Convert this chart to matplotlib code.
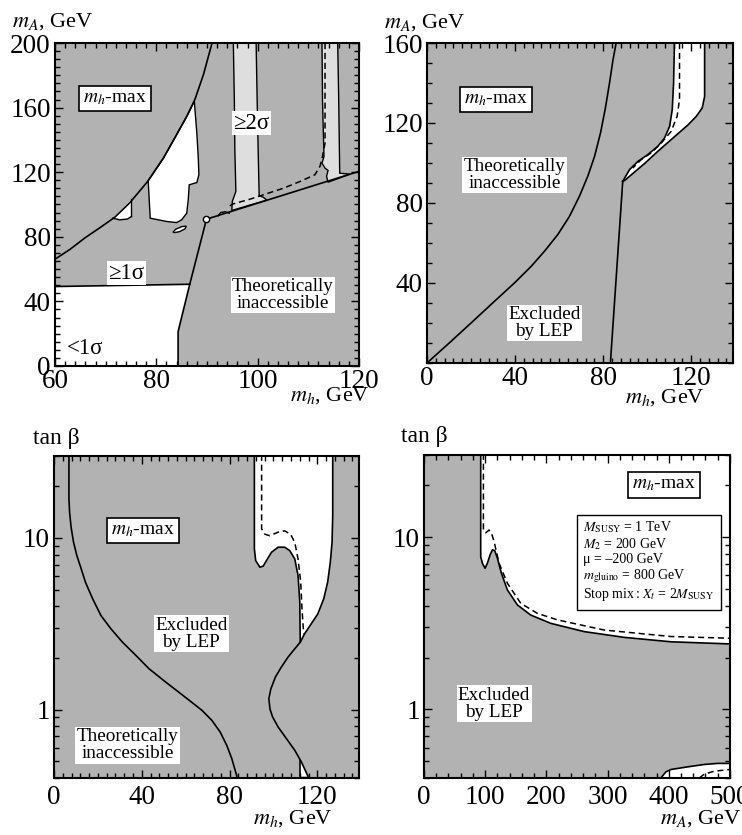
import numpy as np
import matplotlib
matplotlib.use("Agg")
import matplotlib.pyplot as plt
from matplotlib.ticker import MultipleLocator, FixedLocator, NullFormatter, LogLocator

plt.rcParams['font.family'] = ['Liberation Serif', 'DejaVu Serif']
plt.rcParams['mathtext.fontset'] = 'stix'

GRAY = '#b2b2b2'
LIGHT = '#dedede'

# ---- panel 1: (m_h, m_A) with significance bands ----
p1_curve_x = [60.0, 63.0, 65.9, 68.9, 71.8, 74.8, 78.3, 81.4, 84.0, 86.0, 87.6, 89.3, 91.0]
p1_curve_y = [66.1, 72.3, 79.3, 85.7, 92.1, 101.2, 114.3, 128.7, 143.2, 154.5, 164.9,
              180.4, 200.0]

p1_theory_x = [84.3, 84.3, 86.6, 89.9, 120.0]
p1_theory_y = [0.0, 21.3, 50.6, 90.9, 120.5]

p1_sig1_x = [60.0, 86.6]
p1_sig1_y = [49.2, 50.6]

p1_low_x = [60.0, 84.3, 84.3, 86.6, 60.0]
p1_low_y = [0.0, 0.0, 21.3, 50.6, 49.2]

p1_hole1_x = [71.4, 73.3, 75.1, 75.1, 74.3, 72.8]
p1_hole1_y = [91.5, 97.5, 103.3, 92.6, 91.0, 90.5]

p1_hole2_x = [78.4, 81.4, 84.0, 86.0, 87.5, 88.0, 88.3, 88.4, 88.0, 86.5, 86.3,
              86.0, 85.0, 84.0, 82.0, 78.8, 78.6]
p1_hole2_y = [114.8, 128.7, 143.2, 154.5, 163.8, 144.2, 127.7, 118.4, 113.6, 112.2,
              102.9, 94.6, 90.5, 88.8, 89.5, 91.5, 102.9]

p1_blob_x = [83.3, 83.8, 85.0, 85.9, 85.7, 84.6, 83.6]
p1_blob_y = [82.8, 84.6, 86.3, 86.6, 85.0, 83.2, 82.6]

p1_band1_x = [95.2, 95.4, 95.5, 95.7, 95.0, 94.9, 101.8, 101.1, 100.3, 100.1, 99.9, 99.7]
p1_band1_y = [200.0, 164.9, 133.9, 108.1, 101.9, 96.3, 102.7, 104.5, 105.4, 133.9, 164.9, 200.0]

p1_band2_x = [112.7, 112.8, 113.0, 113.1, 112.7, 113.3, 113.9, 113.6, 113.9, 118.2,
              116.2, 116.0, 115.8]
p1_band2_y = [200.0, 164.9, 140.1, 129.8, 125.6, 122.5, 121.1, 117.4, 113.8, 118.8,
              119.4, 164.9, 200.0]

p1_bump_x = [92.2, 92.7, 93.6, 94.4]
p1_bump_y = [93.0, 95.0, 95.5, 94.6]

p1_dash_x = [113.3, 113.3, 113.3, 112.8, 112.3, 111.3, 108.4, 105.1, 98.5, 95.2, 94.5]
p1_dash_y = [200.0, 164.9, 138.0, 129.8, 123.6, 118.4, 114.3, 110.1, 103.3, 100.4, 99.2]

p1_point = (89.9, 90.9)

# ---- panel 2: (m_h, m_A) ----
p2_theory_x = [0.0, 10.9, 20.0, 30.6, 39.7, 47.3, 53.3, 59.4, 64.7, 69.2, 73.0, 76.1,
               78.8, 80.9, 82.9, 84.5, 85.9]
p2_theory_y = [0.0, 10.8, 20.0, 30.8, 40.0, 48.3, 55.8, 64.2, 73.3, 83.3, 93.3, 103.3,
               115.0, 126.7, 140.0, 151.7, 160.0]

p2_lep_x = [83.3, 88.9]
p2_lep_y = [0.0, 90.8]

p2_upper_x = [88.9, 92.0, 95.8, 100.3, 104.8, 107.9, 110.2, 111.4, 112.0, 112.4]
p2_upper_y = [90.8, 96.7, 100.8, 104.2, 108.3, 112.5, 118.3, 126.7, 140.0, 160.0]
p2_lower_x = [88.9, 89.7, 99.1, 104.8, 110.9, 118.5, 122.3, 125.0, 126.1, 126.1]
p2_lower_y = [90.8, 91.2, 100.0, 105.8, 111.7, 119.0, 123.3, 127.5, 133.3, 160.0]

p2_dash_x = [114.7, 114.7, 113.6, 110.9, 106.4, 101.8, 97.3, 93.5]
p2_dash_y = [160.0, 131.7, 123.3, 115.8, 110.0, 105.0, 101.7, 97.5]

# ---- panel 3: (m_h, tan beta) ----
p3_theory_x = [6.8, 6.8, 7.1, 7.8, 8.9, 10.4, 12.4, 14.3, 17.6, 21.4, 25.9, 31.2, 37.3,
               43.3, 50.8, 60.6, 67.4, 71.9, 75.7, 78.7, 81.0, 83.3]
p3_theory_y = [30.5, 16.9, 14.1, 11.5, 9.44, 7.89, 6.60, 5.53, 4.42, 3.53, 2.96, 2.47, 2.07,
               1.73, 1.45, 1.16, 0.991, 0.867, 0.741, 0.62, 0.519, 0.41]

p3_left_x = [91.3, 91.3, 91.9, 93.8, 95.3, 96.8, 99.1, 102.1, 105.1, 107.4, 109.7,
             111.2, 112.0, 112.2]
p3_left_y = [30.5, 8.63, 7.38, 6.75, 6.85, 7.38, 8.25, 8.83, 8.83, 8.44, 7.55,
             6.04, 4.23, 2.47]
p3_right_x = [127.0, 127.0, 126.7, 125.9, 124.7, 122.9, 120.2, 117.2, 114.2, 112.2,
              109.7, 106.6, 103.6, 100.9, 98.8, 97.9, 98.4, 99.6, 102.1, 105.9, 109.7,
              112.7, 115.7]
p3_right_y = [30.5, 13.5, 9.44, 7.22, 5.53, 4.42, 3.61, 3.16, 2.77, 2.47,
              2.26, 2.02, 1.77, 1.55, 1.32, 1.16, 1.01, 0.906, 0.793, 0.678, 0.58,
              0.496, 0.41]

p3_stub_x = [112.0, 112.0]
p3_stub_y = [0.41, 0.505]

p3_dash_x = [94.6, 94.6, 96.1, 98.3, 102.1, 105.1, 107.8, 109.7, 111.2, 112.4, 113.0,
             113.6, 114.0]
p3_dash_y = [30.5, 11.3, 10.5, 10.3, 10.8, 11.0, 10.5, 9.43, 7.55, 5.53, 3.87, 2.96, 2.75]

# ---- panel 4: (m_A, tan beta) ----
p4_lep_x = [92.7, 92.7, 95.4, 99.8, 103.6, 108.0, 111.8, 115.6, 120.0, 126.5, 136.3,
            152.7, 174.5, 207.2, 261.7, 327.2, 403.5, 500.0]
p4_lep_y = [30.5, 7.72, 7.06, 6.60, 7.06, 7.89, 8.44, 8.36, 7.55, 6.18, 4.94,
            4.04, 3.53, 3.16, 2.83, 2.62, 2.47, 2.40]

p4_dash_x = [97.1, 97.1, 100.9, 106.3, 110.1, 114.5, 122.7, 136.3, 158.1, 185.4,
             218.1, 294.4, 403.5, 500.0]
p4_dash_y = [30.5, 11.0, 10.6, 11.0, 10.6, 9.44, 7.06, 5.40, 4.13, 3.61,
             3.31, 2.89, 2.65, 2.59]

p4_low_x = [387.1, 395.3, 403.5, 430.8, 458.0, 479.8, 500.0]
p4_low_y = [0.40, 0.434, 0.448, 0.464, 0.479, 0.486, 0.486]
p4_lowdash_x = [449.8, 458.0, 474.4, 500.0]
p4_lowdash_y = [0.40, 0.421, 0.438, 0.448]

params = ["$M_{\\mathrm{SUSY}}$ = 1 TeV",
          "$M_2$ = 200 GeV",
          "μ = –200 GeV",
          "$m_{\\mathrm{gluino}}$ = 800 GeV",
          "Stop mix$\\,$: $X_t$ = 2$M_{\\mathrm{SUSY}}$"]

TICK_FS = 19.5
AXLAB_FS = 16
LAB_FS = 13.8
SIG_FS = 16.5
SOLID = dict(color='black', lw=1.2)
DASH = dict(color='black', lw=1.1, ls=(0, (4, 2.5)))
PLAIN = dict(facecolor='white', edgecolor='none', pad=1.0)
BOXED = dict(facecolor='white', edgecolor='black', lw=1.2, pad=3.0)


def style(ax, xpad=2.5):
    ax.set_facecolor(GRAY)
    ax.tick_params(which='both', direction='in', top=True, right=True,
                   labelsize=TICK_FS, width=1.0)
    ax.tick_params(axis='x', which='major', pad=xpad)
    ax.tick_params(axis='y', which='major', pad=3)
    ax.tick_params(which='major', length=6)
    ax.tick_params(which='minor', length=3.5)
    for s in ax.spines.values():
        s.set_linewidth(1.5)


def log_y(ax):
    ax.set_yscale('log')
    ax.set_ylim(0.4, 30)
    ax.yaxis.set_major_locator(FixedLocator([1, 10]))
    ax.set_yticklabels(['1', '10'])
    ax.yaxis.set_minor_locator(LogLocator(subs=np.arange(2, 10)))
    ax.yaxis.set_minor_formatter(NullFormatter())


fig = plt.figure(figsize=(7.42, 8.35), dpi=100)

# panel 1
ax1 = fig.add_axes([0.0741, 0.5617, 0.4097, 0.3868])
style(ax1)
ax1.fill(p1_low_x, p1_low_y, color='white', lw=0)
ax1.fill(p1_hole1_x, p1_hole1_y, color='white', lw=0)
ax1.fill(p1_hole2_x, p1_hole2_y, facecolor='white', edgecolor='black', lw=1.0)
ax1.fill(p1_blob_x, p1_blob_y, facecolor='white', edgecolor='black', lw=1.0)
ax1.fill(p1_band1_x, p1_band1_y, facecolor=LIGHT, edgecolor='black', lw=1.0)
ax1.fill(p1_band2_x, p1_band2_y, facecolor=LIGHT, edgecolor='black', lw=1.0)
ax1.plot(p1_curve_x, p1_curve_y, **SOLID)
ax1.plot(p1_theory_x, p1_theory_y, **SOLID)
ax1.plot(p1_sig1_x, p1_sig1_y, **SOLID)
ax1.plot(p1_hole1_x[2:4], p1_hole1_y[2:4], color='black', lw=1.0)
ax1.plot(p1_hole1_x[3:] + [p1_hole1_x[0]], p1_hole1_y[3:] + [p1_hole1_y[0]], color='black', lw=1.0)
ax1.plot(p1_bump_x, p1_bump_y, color='black', lw=1.0)
ax1.plot(p1_dash_x, p1_dash_y, **DASH)
ax1.plot(*p1_point, 'o', ms=4.5, mfc='white', mec='black', mew=1.0)
ax1.set_xlim(60, 120)
ax1.set_ylim(0, 200)
ax1.xaxis.set_major_locator(MultipleLocator(20))
ax1.xaxis.set_minor_locator(MultipleLocator(2))
ax1.yaxis.set_major_locator(MultipleLocator(40))
ax1.yaxis.set_minor_locator(MultipleLocator(5))
ax1.text(71.8, 165.5, "$m_h$-max", fontsize=14, ha='center', va='center', bbox=BOXED)
ax1.text(98.8, 150.4, "≥2σ", fontsize=SIG_FS, ha='center', va='center', bbox=PLAIN)
ax1.text(74.1, 57.4, "≥1σ", fontsize=SIG_FS, ha='center', va='center', bbox=PLAIN)
ax1.text(105.0, 44.0, "Theoretically\ninaccessible", fontsize=LAB_FS, ha='center',
         va='center', linespacing=1.0, bbox=PLAIN)
ax1.text(65.9, 11.0, "<1σ", fontsize=SIG_FS, ha='center', va='center')
ax1.text(-0.141, 1.065, "$m_A$, GeV", fontsize=AXLAB_FS, transform=ax1.transAxes,
         ha='left', va='center')
ax1.text(1.036, -0.093, "$m_h$, GeV", fontsize=AXLAB_FS, transform=ax1.transAxes,
         ha='right', va='center')

# panel 2
ax2 = fig.add_axes([0.5755, 0.5653, 0.4124, 0.3832])
style(ax2)
ax2.fill(p2_upper_x + p2_lower_x[::-1], p2_upper_y + p2_lower_y[::-1], color='white', lw=0)
ax2.plot(p2_theory_x, p2_theory_y, **SOLID)
ax2.plot(p2_lep_x, p2_lep_y, **SOLID)
ax2.plot(p2_upper_x, p2_upper_y, **SOLID)
ax2.plot(p2_lower_x, p2_lower_y, **SOLID)
ax2.plot(p2_dash_x, p2_dash_y, **DASH)
ax2.set_xlim(0, 139)
ax2.set_ylim(0, 160)
ax2.xaxis.set_major_locator(MultipleLocator(40))
ax2.xaxis.set_minor_locator(MultipleLocator(4))
ax2.yaxis.set_major_locator(FixedLocator([40, 80, 120, 160]))
ax2.yaxis.set_minor_locator(MultipleLocator(10))
ax2.text(31.4, 131.7, "$m_h$-max", fontsize=14, ha='center', va='center', bbox=BOXED)
ax2.text(39.7, 94.0, "Theoretically\ninaccessible", fontsize=LAB_FS, ha='center',
         va='center', linespacing=1.0, bbox=PLAIN)
ax2.text(53.3, 20.0, "Excluded\nby LEP", fontsize=LAB_FS, ha='center', va='center',
         linespacing=1.0, bbox=PLAIN)
ax2.text(-0.14, 1.065, "$m_A$, GeV", fontsize=AXLAB_FS, transform=ax2.transAxes,
         ha='left', va='center')
ax2.text(0.908, -0.109, "$m_h$, GeV", fontsize=AXLAB_FS, transform=ax2.transAxes,
         ha='right', va='center')

# panel 3
ax3 = fig.add_axes([0.0728, 0.0683, 0.4111, 0.3856])
style(ax3, xpad=5)
ax3.fill(p3_left_x + p3_right_x[9::-1], p3_left_y + p3_right_y[9::-1], color='white', lw=0)
ax3.fill(p3_stub_x + p3_right_x[-2:], p3_stub_y + p3_right_y[-2:], color='white', lw=0)
ax3.plot(p3_theory_x, p3_theory_y, **SOLID)
ax3.plot(p3_left_x, p3_left_y, **SOLID)
ax3.plot(p3_right_x, p3_right_y, **SOLID)
ax3.plot(p3_stub_x, p3_stub_y, **SOLID)
ax3.plot(p3_dash_x, p3_dash_y, **DASH)
ax3.set_xlim(0, 139)
log_y(ax3)
ax3.xaxis.set_major_locator(MultipleLocator(40))
ax3.xaxis.set_minor_locator(MultipleLocator(4))
ax3.text(40.6, 11.0, "$m_h$-max", fontsize=14, ha='center', va='center', bbox=BOXED)
ax3.text(62.6, 2.77, "Excluded\nby LEP", fontsize=LAB_FS, ha='center', va='center',
         linespacing=1.0, bbox=PLAIN)
ax3.text(33.5, 0.62, "Theoretically\ninaccessible", fontsize=LAB_FS, ha='center',
         va='center', linespacing=1.0, bbox=PLAIN)
ax3.text(-0.069, 1.053, "tan β", fontsize=AXLAB_FS + 1, transform=ax3.transAxes,
         ha='left', va='center')
ax3.text(0.915, -0.127, "$m_h$, GeV", fontsize=AXLAB_FS, transform=ax3.transAxes,
         ha='right', va='center')

# panel 4
ax4 = fig.add_axes([0.5714, 0.0683, 0.4124, 0.3868])
style(ax4, xpad=5)
ax4.fill(p4_lep_x + [500.0], p4_lep_y + [30.5], color='white', lw=0)
ax4.fill(p4_low_x + [500.0], p4_low_y + [0.40], color='white', lw=0)
ax4.plot(p4_lep_x, p4_lep_y, **SOLID)
ax4.plot(p4_dash_x, p4_dash_y, **DASH)
ax4.plot(p4_low_x, p4_low_y, **SOLID)
ax4.plot(p4_lowdash_x, p4_lowdash_y, **DASH)
ax4.set_xlim(0, 500)
log_y(ax4)
ax4.xaxis.set_major_locator(MultipleLocator(100))
ax4.xaxis.set_minor_locator(MultipleLocator(20))
ax4.text(392.6, 20.1, "$m_h$-max", fontsize=14, ha='center', va='center', bbox=BOXED)
ax4.text(0.52, 0.80, "\n".join(params), fontsize=10, transform=ax4.transAxes,
         ha='left', va='top', linespacing=1.1,
         bbox=dict(facecolor='white', edgecolor='black', lw=1.0, pad=4.5))
ax4.text(114.5, 1.08, "Excluded\nby LEP", fontsize=LAB_FS, ha='center', va='center',
         linespacing=1.0, bbox=PLAIN)
ax4.text(-0.075, 1.056, "tan β", fontsize=AXLAB_FS + 1, transform=ax4.transAxes,
         ha='left', va='center')
ax4.text(1.036, -0.127, "$m_A$, GeV", fontsize=AXLAB_FS, transform=ax4.transAxes,
         ha='right', va='center')

fig.savefig("out.png", dpi=100)
